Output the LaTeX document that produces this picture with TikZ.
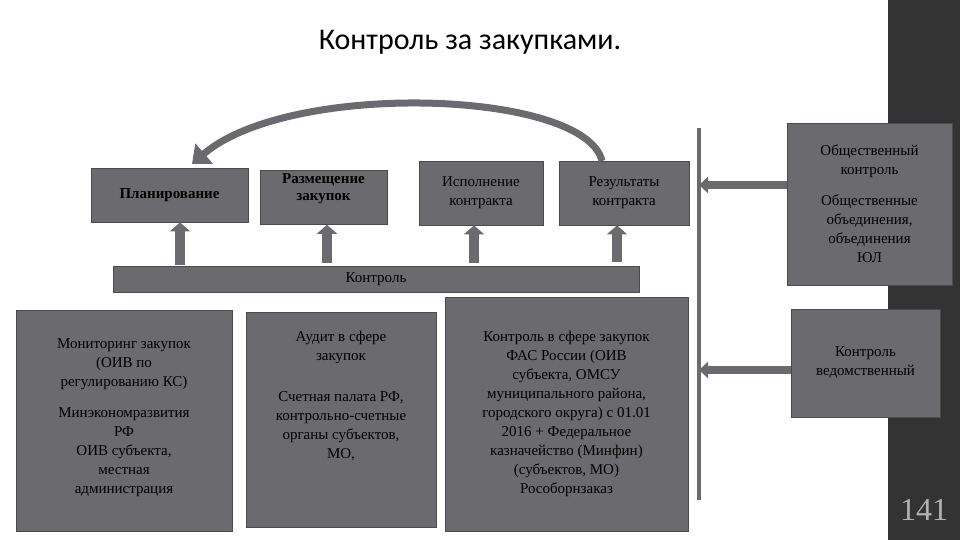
\documentclass[tikz,border=0pt]{standalone}
\usepackage{fontspec}
\setmainfont{Liberation Serif}
\newfontfamily\titlefont{Carlito}
\usetikzlibrary{arrows.meta}
\definecolor{boxg}{HTML}{6B6B6F}
\definecolor{darkbar}{HTML}{333333}
\begin{document}
\begin{tikzpicture}[x=1pt,y=-1pt,
  gbox/.style={draw=boxg!70!black,line width=0.8pt,fill=boxg,align=center,inner sep=2pt,font=\fontsize{15}{19}\selectfont},
  uparr/.style={draw=boxg,line width=10pt,-{Triangle[width=20pt,length=9pt]}},
  larr/.style={draw=boxg,line width=8pt,-{Triangle[width=16pt,length=9pt]}}]
\useasboundingbox (0,0) rectangle (960,540);
\fill[darkbar] (888,0) rectangle (960,540);
\node[font=\titlefont\fontsize{30}{34}\selectfont] (title) at (470,42) {Контроль за закупками.};
% top boxes
\node[gbox,minimum width=157pt,minimum height=54pt,font=\bfseries\fontsize{15}{17}\selectfont] (plan) at (169.5,195) {Планирование};
\node[gbox,minimum width=127pt,minimum height=54pt,anchor=north,font=\bfseries\fontsize{15}{17}\selectfont,text depth=20pt] (razm) at (323.5,170) {Размещение\\закупок};
\node[gbox,minimum width=124pt,minimum height=64pt] (isp) at (481,193) {Исполнение\\контракта};
\node[gbox,minimum width=130pt,minimum height=64pt] (res) at (624,193) {Результаты\\контракта};
\node[gbox,minimum width=526pt,minimum height=26pt] (kontr) at (376,279) {Контроль};
% up arrows
\coordinate (a1) at (180,265); \coordinate (a2) at (327,263);
\coordinate (a3) at (474,263); \coordinate (a4) at (617,262);
\draw[uparr] (a1) -- (plan.south -| a1);
\draw[uparr] (a2) -- (razm.south -| a2);
\draw[uparr] (a3) -- (isp.south -| a3);
\draw[uparr] (a4) -- (res.south -| a4);
% curved arrow
\coordinate (cs) at (602,161);
\coordinate (ce) at (192,164);
\draw[boxg,line width=7pt,-{Triangle[width=26pt,length=16pt]}] (cs) .. controls (585,90) and (290,80) .. (ce);
% vertical line
\coordinate (vt) at (699,128); \coordinate (vb) at (699,500);
\draw[boxg,line width=3.5pt] (vt) -- (vb);
% right boxes
\node[gbox,minimum width=165pt,minimum height=162pt] (obsh) at (869.5,204) {Общественный\\контроль\\[12pt]Общественные\\объединения,\\объединения\\ЮЛ};
\node[gbox,minimum width=149pt,minimum height=108pt] (ved) at (865.5,363) {Контроль\\ведомственный};
\draw[larr] (obsh.west |- 0,185) -- (vt |- 0,185);
\draw[larr] (ved.west |- 0,370) -- (vt |- 0,370);
% bottom boxes
\node[gbox,minimum width=216pt,minimum height=221pt,anchor=north,text depth=10pt] (mon) at (124,310) {Мониторинг закупок\\(ОИВ по\\регулированию КС)\\[12pt]Минэкономразвития\\РФ\\ОИВ субъекта,\\местная\\администрация};
\node[gbox,minimum width=190pt,minimum height=215pt] (aud) at (341,419.5) {Аудит в сфере\\закупок\\[22pt]Счетная палата РФ,\\контрольно-счетные\\органы субъектов,\\МО,\\[30pt]\mbox{}};
\node[gbox,minimum width=243pt,minimum height=234pt] (fas) at (566.5,414) {Контроль в сфере закупок\\ФАС России (ОИВ\\субъекта, ОМСУ\\муниципального района,\\городского округа) с 01.01\\2016 + Федеральное\\казначейство (Минфин)\\(субъектов, МО)\\Рособорнзаказ};
\node[text=gray!60,font=\fontsize{32}{34}\selectfont] (num) at (924,510) {141};
\end{tikzpicture}
\end{document}
